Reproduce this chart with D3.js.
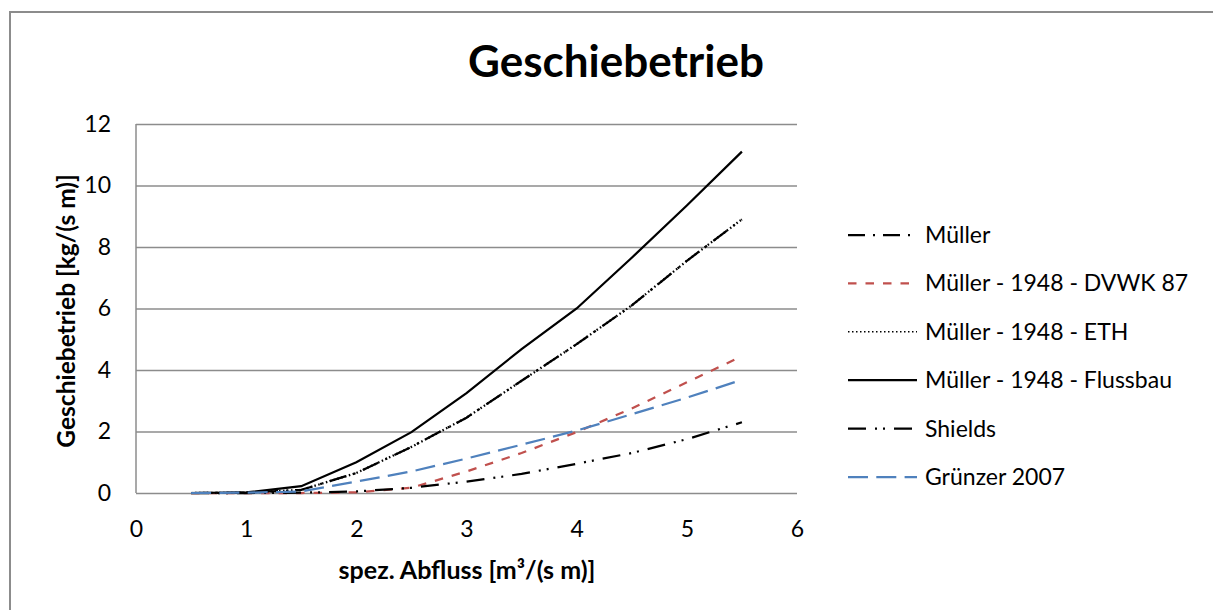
<!DOCTYPE html>
<meta charset="utf-8">
<style>
    body {
        margin: 0;
        background: #fff;
    }

    svg text {
        font-family: Lato, "Open Sans", sans-serif;
        fill: #000;
    }

    .axis path {
        display: none;
    }

    .grid line {
        stroke: #8c8c8c;
        stroke-width: 1.5;
    }

    .series {
        fill: none;
        stroke-width: 2.25;
    }
</style>

<body>
    <script src="https://d3js.org/d3.v7.min.js"></script>
    <script>
        // Abfluss-Stützstellen [m³/(s m)]
        var abfluss = [0.5, 1, 1.5, 2, 2.5, 3, 3.5, 4, 4.5, 5, 5.5];

        var seriesNames = ["Müller", "Müller - 1948 - DVWK 87", "Müller - 1948 - ETH",
            "Müller - 1948 - Flussbau", "Shields", "Grünzer 2007"];

        var mueller = [0, 0.01, 0.1, 0.65, 1.5, 2.45, 3.65, 4.84, 6.1, 7.55, 8.9];
        var muellerDvwk = [0, 0, 0, 0.02, 0.17, 0.7, 1.3, 1.98, 2.75, 3.6, 4.45];
        var muellerEth = [0, 0.01, 0.1, 0.65, 1.5, 2.45, 3.65, 4.84, 6.1, 7.55, 8.9];
        var muellerFlussbau = [0, 0.02, 0.22, 1.0, 1.98, 3.25, 4.68, 6.0, 7.65, 9.35, 11.1];
        var shields = [0, 0, 0.01, 0.05, 0.17, 0.37, 0.62, 0.95, 1.3, 1.75, 2.3];
        var gruenzer = [0, 0.01, 0.05, 0.37, 0.7, 1.12, 1.57, 2.03, 2.56, 3.1, 3.68];

        var xTicks = [0, 1, 2, 3, 4, 5, 6];
        var yTicks = [0, 2, 4, 6, 8, 10, 12];

        var values = [mueller, muellerDvwk, muellerEth, muellerFlussbau, shields, gruenzer];

        var styles = [
            { color: "#000", dash: "17,8,2,8", width: 2.25 },
            { color: "#c0504d", dash: "8.5,9", width: 2.25 },
            { color: "#000", dash: "1.5,2.5", width: 1.5 },
            { color: "#000", dash: null, width: 2.25 },
            { color: "#000", dash: "18,9,2,6,2,9", width: 2.25 },
            { color: "#4f81bd", dash: "20,8.3", width: 2.25 }
        ];

        var W = 1213, H = 610;
        var margin = { top: 124, left: 136 },
            width = 797 - 136,
            height = 493 - 124;

        var svg = d3.select("body").append("svg")
            .attr("width", W)
            .attr("height", H);

        // Rahmen des Diagramms (rechts/unten abgeschnitten)
        svg.append("rect")
            .attr("x", 10)
            .attr("y", 12)
            .attr("width", W + 20)
            .attr("height", H + 20)
            .attr("fill", "none")
            .attr("stroke", "#8c8c8c")
            .attr("stroke-width", 2);

        svg.append("text")
            .attr("x", 616)
            .attr("y", 77)
            .attr("text-anchor", "middle")
            .style("font-size", "44px")
            .style("font-weight", "bold")
            .text("Geschiebetrieb");

        var g = svg.append("g")
            .attr("transform", "translate(" + margin.left + "," + margin.top + ")");

        var x = d3.scaleLinear().domain([0, 6]).range([0, width]);
        var y = d3.scaleLinear().domain([0, 12]).range([height, 0]);

        // Gitterlinien + y-Beschriftung
        g.append("g")
            .attr("class", "axis grid")
            .call(d3.axisLeft(y).tickValues(yTicks).tickSize(-width).tickPadding(25)
                .tickFormat(d3.format("d")))
            .style("font-size", "23px")
            .style("font-family", "Lato, sans-serif");

        // linke Achsenlinie
        g.append("line")
            .attr("x1", 0).attr("x2", 0)
            .attr("y1", 0).attr("y2", height)
            .attr("stroke", "#8c8c8c")
            .attr("stroke-width", 1.5);

        g.append("g")
            .attr("class", "axis")
            .attr("transform", "translate(0," + height + ")")
            .call(d3.axisBottom(x).tickValues(xTicks).tickSize(0).tickPadding(28)
                .tickFormat(d3.format("d")))
            .style("font-size", "23px")
            .style("font-family", "Lato, sans-serif");

        var line = d3.line()
            .x(function(d, i) { return x(abfluss[i]); })
            .y(function(d) { return y(d); });

        g.selectAll(".series")
            .data(values)
            .enter().append("path")
            .attr("class", "series")
            .attr("d", line)
            .attr("stroke", function(d, i) { return styles[i].color; })
            .attr("stroke-width", function(d, i) { return styles[i].width; })
            .attr("stroke-dasharray", function(d, i) { return styles[i].dash; });

        // Achsentitel
        svg.append("text")
            .attr("transform", "translate(75,311) rotate(-90)")
            .attr("text-anchor", "middle")
            .style("font-size", "24.5px")
            .style("font-weight", "bold")
            .text("Geschiebetrieb [kg/(s m)]");

        svg.append("text")
            .attr("x", 467)
            .attr("y", 579)
            .attr("text-anchor", "middle")
            .style("font-size", "25px")
            .style("font-weight", "bold")
            .text("spez. Abfluss [m³/(s m)]");

        // Legende
        var legend = svg.selectAll(".legend")
            .data(seriesNames)
            .enter().append("g")
            .attr("class", "legend")
            .attr("transform", function(d, i) {
                return "translate(848," + (235 + i * 48.4) + ")";
            });

        legend.append("line")
            .attr("x1", 0).attr("x2", 69)
            .attr("y1", 0).attr("y2", 0)
            .attr("stroke", function(d, i) { return styles[i].color; })
            .attr("stroke-width", function(d, i) { return styles[i].width; })
            .attr("stroke-dasharray", function(d, i) { return styles[i].dash; });

        legend.append("text")
            .attr("x", 77)
            .attr("y", 0)
            .attr("dy", "0.35em")
            .style("font-size", "23px")
            .text(function(d) { return d; });
    </script>
</body>
